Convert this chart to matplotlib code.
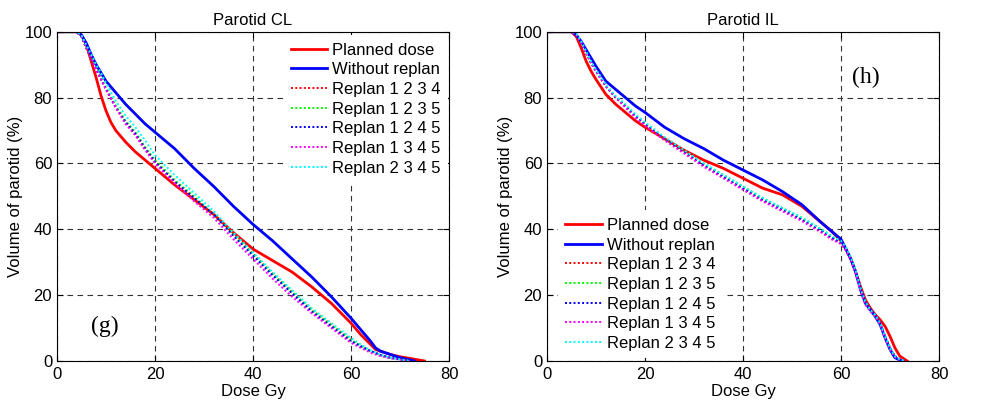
import numpy as np
import matplotlib
matplotlib.use("Agg")
import matplotlib.pyplot as plt

plt.rcParams["font.family"] = ["Liberation Sans", "DejaVu Sans"]

# ── Parotid CL (left panel) ───────────────────────────────────────
cl_plan_d = [0, 4, 5, 6, 7, 8, 9, 10, 11, 12, 14, 16, 18, 20, 24, 28, 32, 36, 40,
             44, 48, 52, 56, 60, 62, 64, 65, 66, 68, 70, 72, 75]
cl_plan_v = [100, 100, 99, 96, 91, 86, 80.5, 76, 72.5, 70, 66.5, 63.5, 61, 58.5, 53.5,
             49, 44.5, 39, 34, 30.5, 27, 22.5, 17.5, 11.5, 8, 5, 3.5, 3, 2, 1.3, 0.8, 0]

cl_norep_d = [0, 4, 5, 6, 7, 8, 9, 10, 12, 14, 16, 18, 20, 24, 28, 32, 36, 40, 44,
              48, 52, 56, 60, 62, 64, 65, 66, 68, 70, 73]
cl_norep_v = [100, 100, 99, 96.5, 93, 90, 87.5, 85, 81.5, 78, 75, 72, 69.5, 64.5,
              58.5, 53, 47, 41.5, 36.5, 31, 25.5, 19.5, 13, 9.5, 6, 4, 3, 2, 1, 0]

cl_rep_d = [0, 4, 5, 6, 7, 8, 9, 10, 12, 14, 16, 18, 20, 24, 28, 32, 36, 40, 44,
            48, 52, 56, 60, 62, 64, 65, 66, 68, 70, 72]
cl_rep1234 = [100, 100, 98.5, 95, 92, 88.5, 85.5, 82.5, 77, 72.5, 69, 64.5, 60.5,
              54.5, 49.5, 44.5, 38.5, 32.5, 26.5, 21, 15.5, 11, 6.5, 4.5, 3, 2.5,
              1.8, 1, 0.5, 0]
cl_rep1235 = [100, 100, 98.5, 95, 92, 89, 86, 83, 77.5, 73, 69.5, 65, 61, 55, 50,
              44.5, 38.5, 32.5, 26.5, 21, 15.5, 11, 6.5, 4.5, 3, 2.5, 1.8, 1, 0.5, 0]
cl_rep1245 = [100, 100, 98.5, 95, 92, 88.5, 85.5, 82.5, 77, 72.5, 69, 64.5, 60.5,
              54.5, 49.5, 44.5, 38, 32, 26, 20.5, 15, 10.5, 6, 4.5, 3, 2.5, 1.8,
              1, 0.5, 0]
cl_rep1345 = [100, 100, 98.5, 95, 92, 88.5, 85.5, 82.5, 77, 72, 68.5, 64, 60, 54,
              48.5, 43.5, 37, 31, 25, 19.5, 14.5, 10, 5.5, 4, 2.5, 2, 1.5, 0.8, 0.4, 0]
cl_rep2345 = [100, 100, 99, 96, 93, 90, 87.5, 84.5, 79, 74.5, 71, 67, 62.5, 56.5,
              51, 45.5, 39, 33, 27, 21.5, 16, 11.5, 7, 5, 3.2, 2.6, 1.9, 1, 0.5, 0]

# ── Parotid IL (right panel) ──────────────────────────────────────
il_plan_d = [0, 5, 6, 7, 8, 9, 10, 12, 14, 16, 18, 20, 24, 28, 32, 36, 40, 44, 48,
             52, 56, 58, 60, 61, 62, 63, 64, 65, 66, 67, 68, 69, 70, 71, 72, 73, 73.5]
il_plan_v = [100, 100, 98.5, 95, 91, 88, 85.5, 81, 78, 75.5, 73, 71, 67.5, 64, 61,
             58.5, 55.5, 52.5, 50.5, 47, 42, 39.5, 36.5, 34, 31, 27, 22.5, 18.5, 16,
             14, 12.5, 10.5, 7.5, 4, 1.5, 0.5, 0]

il_norep_d = [0, 5, 6, 7, 8, 9, 10, 12, 14, 16, 18, 20, 24, 28, 32, 36, 40, 44, 48,
              52, 56, 58, 60, 61, 62, 63, 64, 65, 66, 67, 68, 69, 70, 71, 72, 72.5]
il_norep_v = [100, 100, 99, 97, 94.5, 92, 89.5, 85, 82.5, 80, 77.5, 75.5, 71, 67.5,
              64.5, 61, 58, 55, 51.5, 47.5, 42, 39.5, 37, 34, 31, 27, 21.5, 17.5,
              15.5, 13.5, 11, 7, 3.5, 1, 0.3, 0]

il_rep_d = [0, 5, 6, 7, 8, 9, 10, 12, 14, 16, 18, 20, 24, 28, 32, 36, 40, 44, 48,
            52, 56, 58, 60, 61, 62, 63, 64, 65, 66, 67, 68, 69, 70, 71, 72, 73]
il_rep1234 = [100, 100, 99, 96.5, 93.5, 90.5, 88, 83.5, 80, 77.5, 74.5, 72, 67.5,
              63.5, 59.5, 56, 52.5, 49, 46, 43, 39.5, 37.5, 36, 34, 31, 27, 21.5,
              17.5, 15.5, 14, 11.5, 7.5, 4, 1.5, 0.5, 0]
il_rep1235 = [100, 100, 99, 96.5, 93.5, 90.5, 88, 83.5, 80, 77.5, 74.5, 72, 67.5,
              63.5, 60, 56.5, 53, 49.5, 46.5, 43.5, 40, 38, 36, 34, 31, 27, 21.5,
              17.5, 15, 13.5, 11, 7, 3.5, 1.2, 0.4, 0]
il_rep1245 = [100, 100, 99, 96.5, 93.5, 90.5, 88, 83.5, 80, 77.5, 74.5, 72, 67.5,
              63.5, 59.5, 56, 52.5, 49, 46, 43, 39.5, 37.5, 36, 34, 31, 27, 21.5,
              17.5, 15.5, 14, 11.5, 7.5, 4, 1.5, 0.5, 0]
il_rep1345 = [100, 100, 99, 96.5, 93.5, 90.5, 88, 83.5, 80, 77, 74, 71.5, 67, 63,
              59, 55.5, 52, 48.5, 45.5, 42.5, 39, 37, 35.5, 33.5, 30.5, 26.5, 21,
              17, 15, 13.5, 11, 7, 3.5, 1.2, 0.4, 0]
il_rep2345 = [100, 100, 99.5, 97, 94, 91, 88.5, 84, 80.5, 78, 75, 72.5, 68, 64,
              60, 56.5, 53, 49.5, 46.5, 43.5, 40, 38, 36.5, 34.5, 31.5, 27.5, 22,
              18, 15.5, 14, 11.5, 7.5, 4, 1.5, 0.5, 0]

labels = ["Planned dose", "Without replan", "Replan 1 2 3 4", "Replan 1 2 3 5",
          "Replan 1 2 4 5", "Replan 1 3 4 5", "Replan 2 3 4 5"]
rep_colors = ["#ff0000", "#00ff00", "#0000ff", "#ff00ff", "#00ffff"]

FS = 12


def draw_panel(ax, plan_d, plan_v, norep_d, norep_v, rep_d, reps, title, tag,
               tag_xy, legend_loc, legend_anchor):
    ax.plot(plan_d, plan_v, color="#ff0000", lw=2.0, label=labels[0])
    ax.plot(norep_d, norep_v, color="#0000ff", lw=2.0, label=labels[1])
    for rv, c, lab in zip(reps, rep_colors, labels[2:]):
        ax.plot(rep_d, rv, color=c, lw=1.4, linestyle=(0, (1, 1.2)), label=lab)

    ax.set_xlim(0, 80)
    ax.set_ylim(0, 100)
    ax.set_xticks([0, 20, 40, 60, 80])
    ax.set_yticks([0, 20, 40, 60, 80, 100])
    ax.tick_params(direction="in", length=4, labelsize=FS, width=0.8,
                   top=True, right=True)
    ax.tick_params(axis="x", pad=4.5)
    ax.tick_params(axis="y", pad=3.5)
    ax.grid(True, color="#333333", linestyle=(0, (5, 4)), lw=0.8)
    for sp in ax.spines.values():
        sp.set_linewidth(0.8)
        sp.set_zorder(6)
    ax.set_title(title, fontsize=FS, pad=5)
    ax.set_xlabel("Dose Gy", fontsize=FS, labelpad=1)
    ax.set_ylabel("Volume of parotid (%)", fontsize=FS, labelpad=1)
    ax.text(tag_xy[0], tag_xy[1], tag, fontsize=17,
            family=["Liberation Serif", "DejaVu Serif"], ha="center", va="center")

    leg = ax.legend(loc=legend_loc, bbox_to_anchor=legend_anchor, fontsize=FS,
                    frameon=True, fancybox=False, edgecolor="none",
                    framealpha=1.0, handlelength=2.17, labelspacing=0.28,
                    borderpad=0.45, borderaxespad=0, handletextpad=0.3)
    leg.get_frame().set_linewidth(0)


fig = plt.figure(figsize=(9.81, 4.08), dpi=100)
ax1 = fig.add_axes([0.0581, 0.1152, 0.3996, 0.807])
ax2 = fig.add_axes([0.5576, 0.1152, 0.3996, 0.807])

draw_panel(ax1, cl_plan_d, cl_plan_v, cl_norep_d, cl_norep_v, cl_rep_d,
           [cl_rep1234, cl_rep1235, cl_rep1245, cl_rep1345, cl_rep2345],
           "Parotid CL", "(g)", (9.8, 10.4), "upper left", (0.578, 0.99))
draw_panel(ax2, il_plan_d, il_plan_v, il_norep_d, il_norep_v, il_rep_d,
           [il_rep1234, il_rep1235, il_rep1245, il_rep1345, il_rep2345],
           "Parotid IL", "(h)", (65, 86), "lower left", (0.028, 0.0076))

fig.savefig("out.png", dpi=100)
